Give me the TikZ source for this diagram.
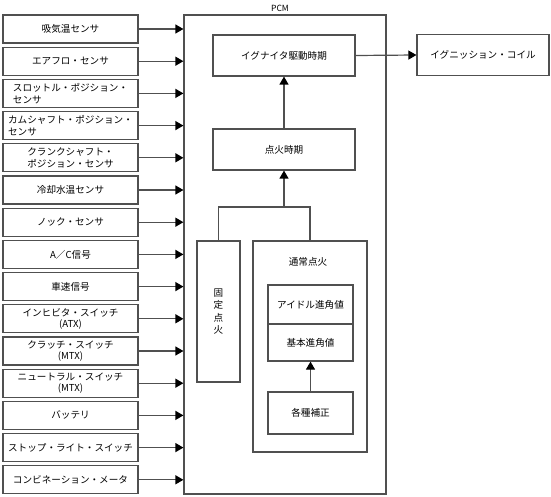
\documentclass[tikz,border=0pt]{standalone}
\usepackage{fontspec}
\setmainfont{Noto Sans CJK JP}
\usetikzlibrary{arrows.meta}
\definecolor{lc}{HTML}{505050}
\begin{document}
\begin{tikzpicture}[x=1pt,y=-1pt,
  box/.style={draw=lc, line width=1.2pt, fill=white, inner sep=0pt, align=center,
    font=\fontsize{9.6}{11.5}\selectfont},
  lbox/.style={box, minimum width=135pt, minimum height=28pt},
  arr/.style={draw=lc, line width=1.2pt, -{Triangle[length=8pt,width=9pt,color=black]}},
  ln/.style={draw=lc, line width=1.2pt},
  lbl/.style={inner sep=0pt, font=\fontsize{9.6}{11.5}\selectfont}]
\useasboundingbox (0,0) rectangle (551,497);
% PCM
\node[box, minimum width=202pt, minimum height=479pt] (pcm) at (285,254.5) {};
\node[lbl, font=\fontsize{8.5}{10}\selectfont] (pcmlbl) at (280,8) {PCM};
% left inputs
\node[lbox] (b0) at (70.5,29.0) {吸気温センサ};
\node[lbox] (b1) at (70.5,61.2) {エアフロ・センサ};
\node[lbox, align=left] (b2) at (70.5,93.4) {スロットル・ポジション・\\センサ};
\node[lbox, align=left] (b3) at (70.5,125.6) {カムシャフト・ポジション・\\センサ};
\node[lbox] (b4) at (70.5,157.8) {クランクシャフト・\\ポジション・センサ};
\node[lbox] (b5) at (70.5,190.0) {冷却水温センサ};
\node[lbox] (b6) at (70.5,222.2) {ノック・センサ};
\node[lbox] (b7) at (70.5,254.4) {A／C信号};
\node[lbox] (b8) at (70.5,286.6) {車速信号};
\node[lbox] (b9) at (70.5,318.8) {インヒビタ・スイッチ\\(ATX)};
\node[lbox] (b10) at (70.5,351.0) {クラッチ・スイッチ\\(MTX)};
\node[lbox] (b11) at (70.5,383.2) {ニュートラル・スイッチ\\(MTX)};
\node[lbox] (b12) at (70.5,415.4) {バッテリ};
\node[lbox] (b13) at (70.5,447.6) {ストップ・ライト・スイッチ};
\node[lbox] (b14) at (70.5,479.8) {コンビネーション・メータ};
\foreach \i in {0,...,14}{
  \draw[arr] (b\i.east) -- (b\i.east -| pcm.west);
}
% inside PCM
\node[box, minimum width=142pt, minimum height=41pt] (ign) at (284,55.5) {イグナイタ駆動時期};
\node[box, minimum width=132pt, minimum height=41pt] (coil) at (483,55) {イグニッション・コイル};
\node[box, minimum width=142pt, minimum height=41pt] (tenka) at (284,149.5) {点火時期};
\node[box, minimum width=43pt, minimum height=141pt, font=\fontsize{9.6}{12.3}\selectfont] (kotei) at (218.5,311.5) {固\\定\\点\\火};
\node[box, minimum width=114pt, minimum height=211pt] (tsujo) at (310,346.5) {};
\node[lbl] (tsujolbl) at (308,262) {通常点火};
\node[box, minimum width=85pt, minimum height=39pt] (idle) at (310.5,304.5) {アイドル進角値};
\node[box, minimum width=85pt, minimum height=37pt] (kihon) at (310.5,342.5) {基本進角値};
\node[box, minimum width=85pt, minimum height=42pt] (hosei) at (310.5,413) {各種補正};
% connectors
\draw[arr] (ign.east) -- (coil.west);
\draw[arr] (tenka.north) -- (ign.south);
\coordinate (j) at (284,207);
\draw[ln] (kotei.north) |- (j) -| (tsujo.north);
\draw[arr] (j) -- (tenka.south);
\draw[arr] (hosei.north) -- (kihon.south);
\end{tikzpicture}
\end{document}
